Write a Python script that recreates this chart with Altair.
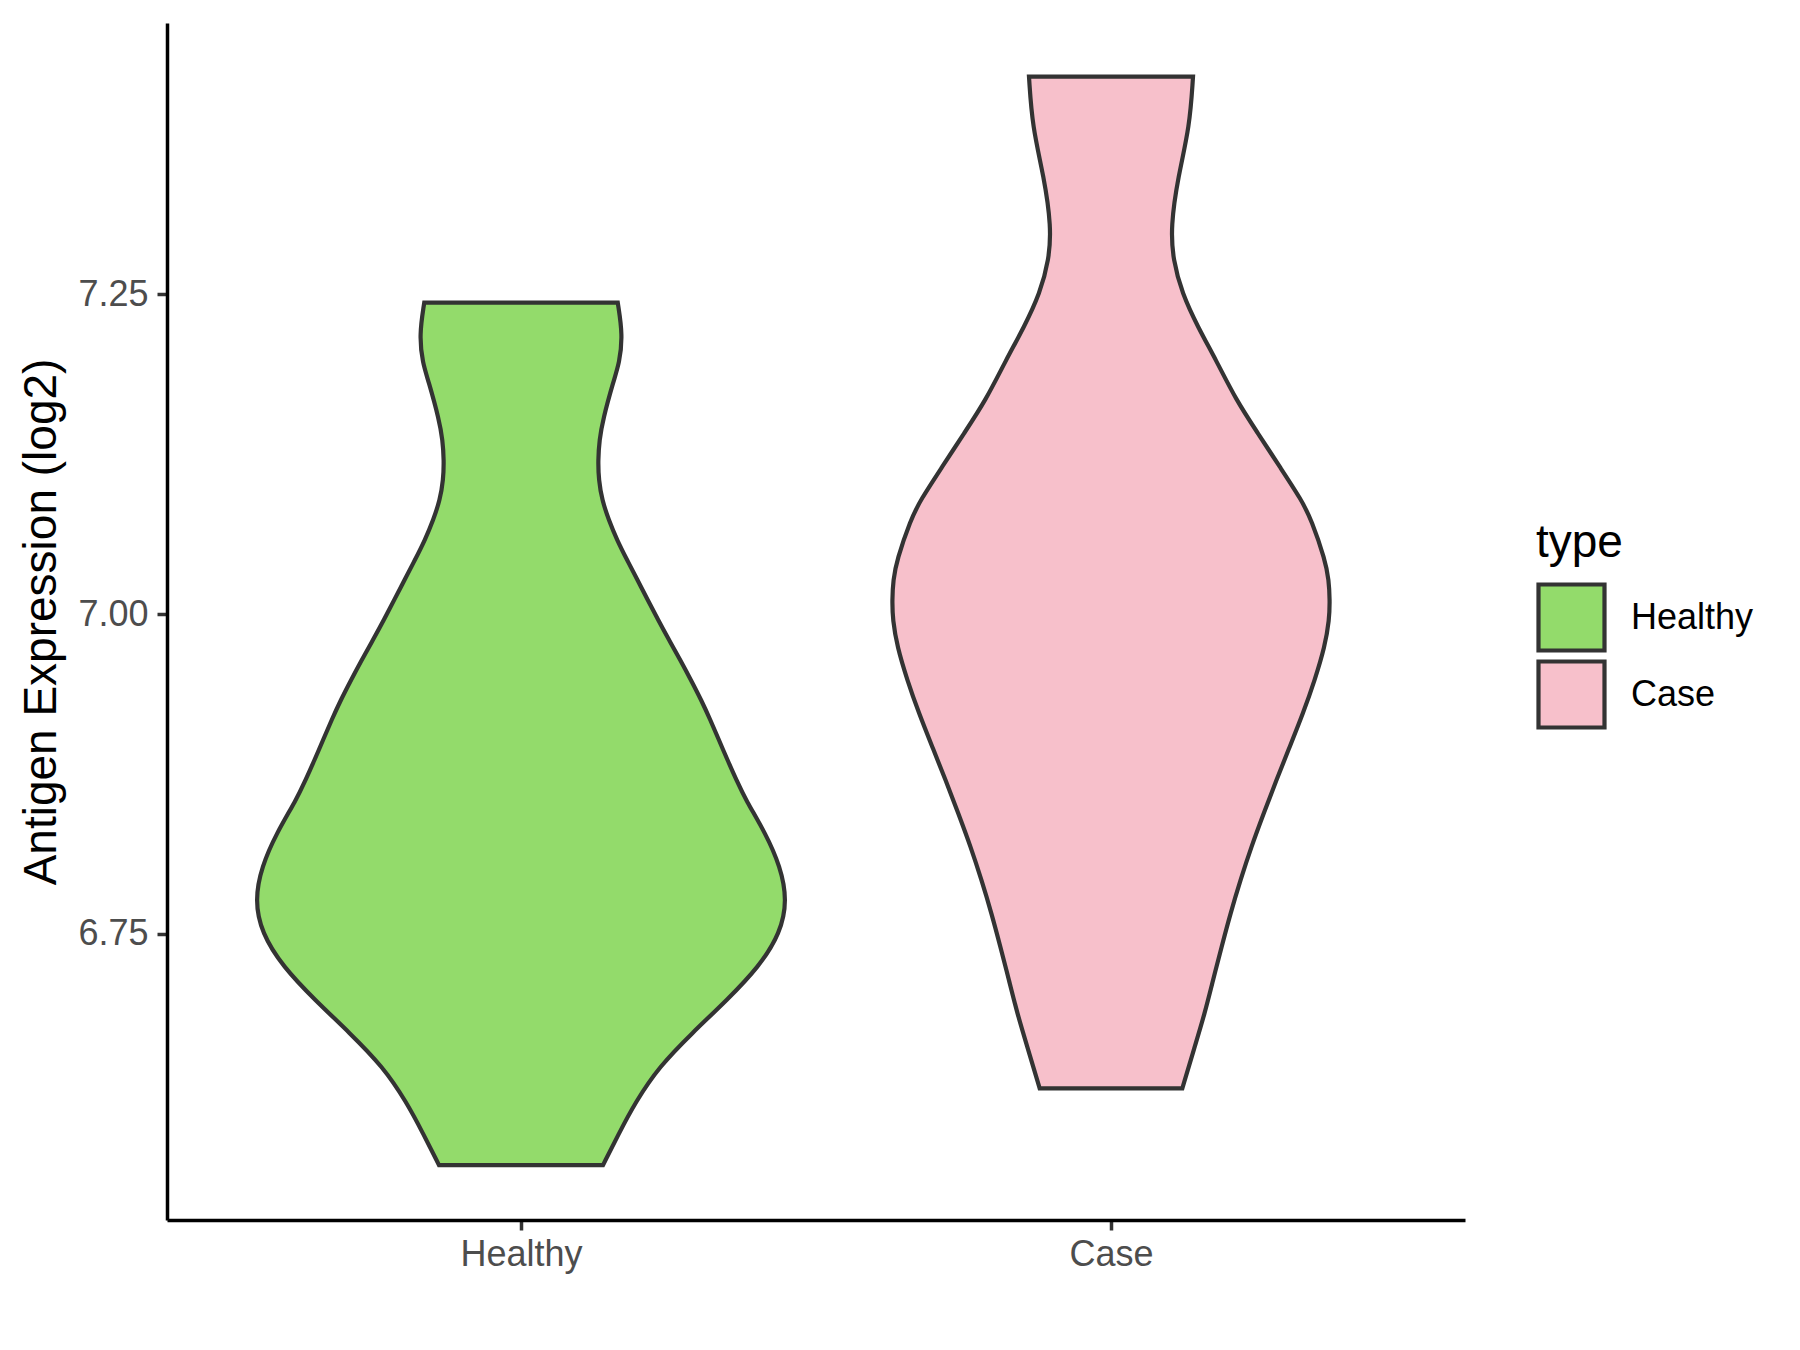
import altair as alt
import pandas as pd

# Violin outlines: expression value and half-width (x units)
healthy_y = [7.2436, 7.2183, 7.1962, 7.1831, 7.1519, 7.1362, 7.1206, 7.1049, 7.0893, 7.0737,
             7.058, 7.0424, 7.0267, 7.0124, 6.9955, 6.9798, 6.9642, 6.9486, 6.9329, 6.9173,
             6.9016, 6.886, 6.8704, 6.8547, 6.8289, 6.8026, 6.7765, 6.7507, 6.7244, 6.6983,
             6.6725, 6.6462, 6.6183, 6.5942, 6.5692]
healthy_w = [0.1640, 0.1725, 0.1667, 0.1572, 0.1386, 0.1329, 0.1306, 0.1317, 0.1374, 0.1487,
             0.1628, 0.1798, 0.1975, 0.2135, 0.2325, 0.2510, 0.2700, 0.288, 0.3055, 0.321,
             0.3355, 0.350, 0.3650, 0.381, 0.4143, 0.4397, 0.4511, 0.4397, 0.4036, 0.3493,
             0.29, 0.234, 0.1938, 0.1662, 0.139]

case_y = [7.4203, 7.3812, 7.3421, 7.303, 7.277, 7.251, 7.2248, 7.1988, 7.1675, 7.1415,
          7.1153, 7.0893, 7.0737, 7.0424, 7.0267, 7.0111, 6.9955, 6.9746, 6.9485, 6.9225,
          6.8964, 6.8703, 6.8443, 6.8182, 6.7922, 6.7661, 6.74, 6.714, 6.6879, 6.6618, 6.6293]
case_w = [0.139, 0.1334, 0.1136, 0.1012, 0.1051, 0.1204, 0.1470, 0.1780, 0.2120, 0.2490,
          0.2860, 0.3230, 0.3397, 0.3630, 0.3692, 0.3709, 0.3700, 0.3624, 0.3454, 0.3256,
          0.303, 0.2803, 0.2589, 0.2379, 0.2195, 0.2025, 0.1875, 0.173, 0.1589, 0.1419, 0.1209]

categories = ["Healthy", "Case"]
colors = ["#93DB6B", "#F7C0CB"]
y_ticks = [6.75, 7.00, 7.25]

rows = []
for i, (name, ys, ws) in enumerate([("Healthy", healthy_y, healthy_w), ("Case", case_y, case_w)]):
    for y, w in zip(ys, ws):
        rows.append({"type": name, "pos": i + 1, "y": y, "hw": w})
df = pd.DataFrame(rows)

label_expr = "datum.value == 1 ? 'Healthy' : (datum.value == 2 ? 'Case' : '')"

chart = alt.Chart(df).transform_calculate(
    xl="datum.pos - datum.hw", xr="datum.pos + datum.hw"
).mark_area(
    orient="horizontal", interpolate="basis", stroke="#333333", strokeWidth=4.2
).encode(
    y=alt.Y("y:Q", scale=alt.Scale(domain=[6.5263, 7.4623], nice=False, zero=False),
            axis=alt.Axis(values=y_ticks, format=".2f", title="Antigen Expression (log2)")),
    x=alt.X("xl:Q", scale=alt.Scale(domain=[0.4, 2.6], nice=False, zero=False),
            axis=alt.Axis(values=[1, 2], labelExpr=label_expr, title=None)),
    x2="xr:Q",
    color=alt.Color("type:N", scale=alt.Scale(domain=categories, range=colors),
                    sort=categories,
                    legend=alt.Legend(title="type", orient="none", legendX=1369, legendY=498,
                                      symbolType="square", symbolSize=4356,
                                      symbolStrokeColor="#333333", symbolStrokeWidth=4.2,
                                      labelFontSize=36, titleFontSize=46, titleFontWeight="normal",
                                      labelColor="black", titleColor="black",
                                      titlePadding=15, rowPadding=-9, labelOffset=24,
                                      padding=0, labelFont="Liberation Sans",
                                      titleFont="Liberation Sans")),
).properties(
    width=1298, height=1197,
    autosize=alt.AutoSizeParams(type="none"),
    padding={"left": 159, "top": 15, "right": 320, "bottom": 110},
).configure_view(
    stroke=None
).configure_axis(
    grid=False, domainColor="black", domainWidth=3.5, tickColor="#333333", tickWidth=3.5,
    tickSize=10, labelFontSize=36, labelColor="#4D4D4D", labelFont="Liberation Sans",
    titleFont="Liberation Sans", titleFontSize=46, titleFontWeight="normal", titleColor="black",
    labelPadding=9
).configure_axisY(
    titlePadding=12
).configure_axisX(
    labelPadding=7
)

chart.save("out.html", embed_options={"renderer": "svg", "actions": False})
